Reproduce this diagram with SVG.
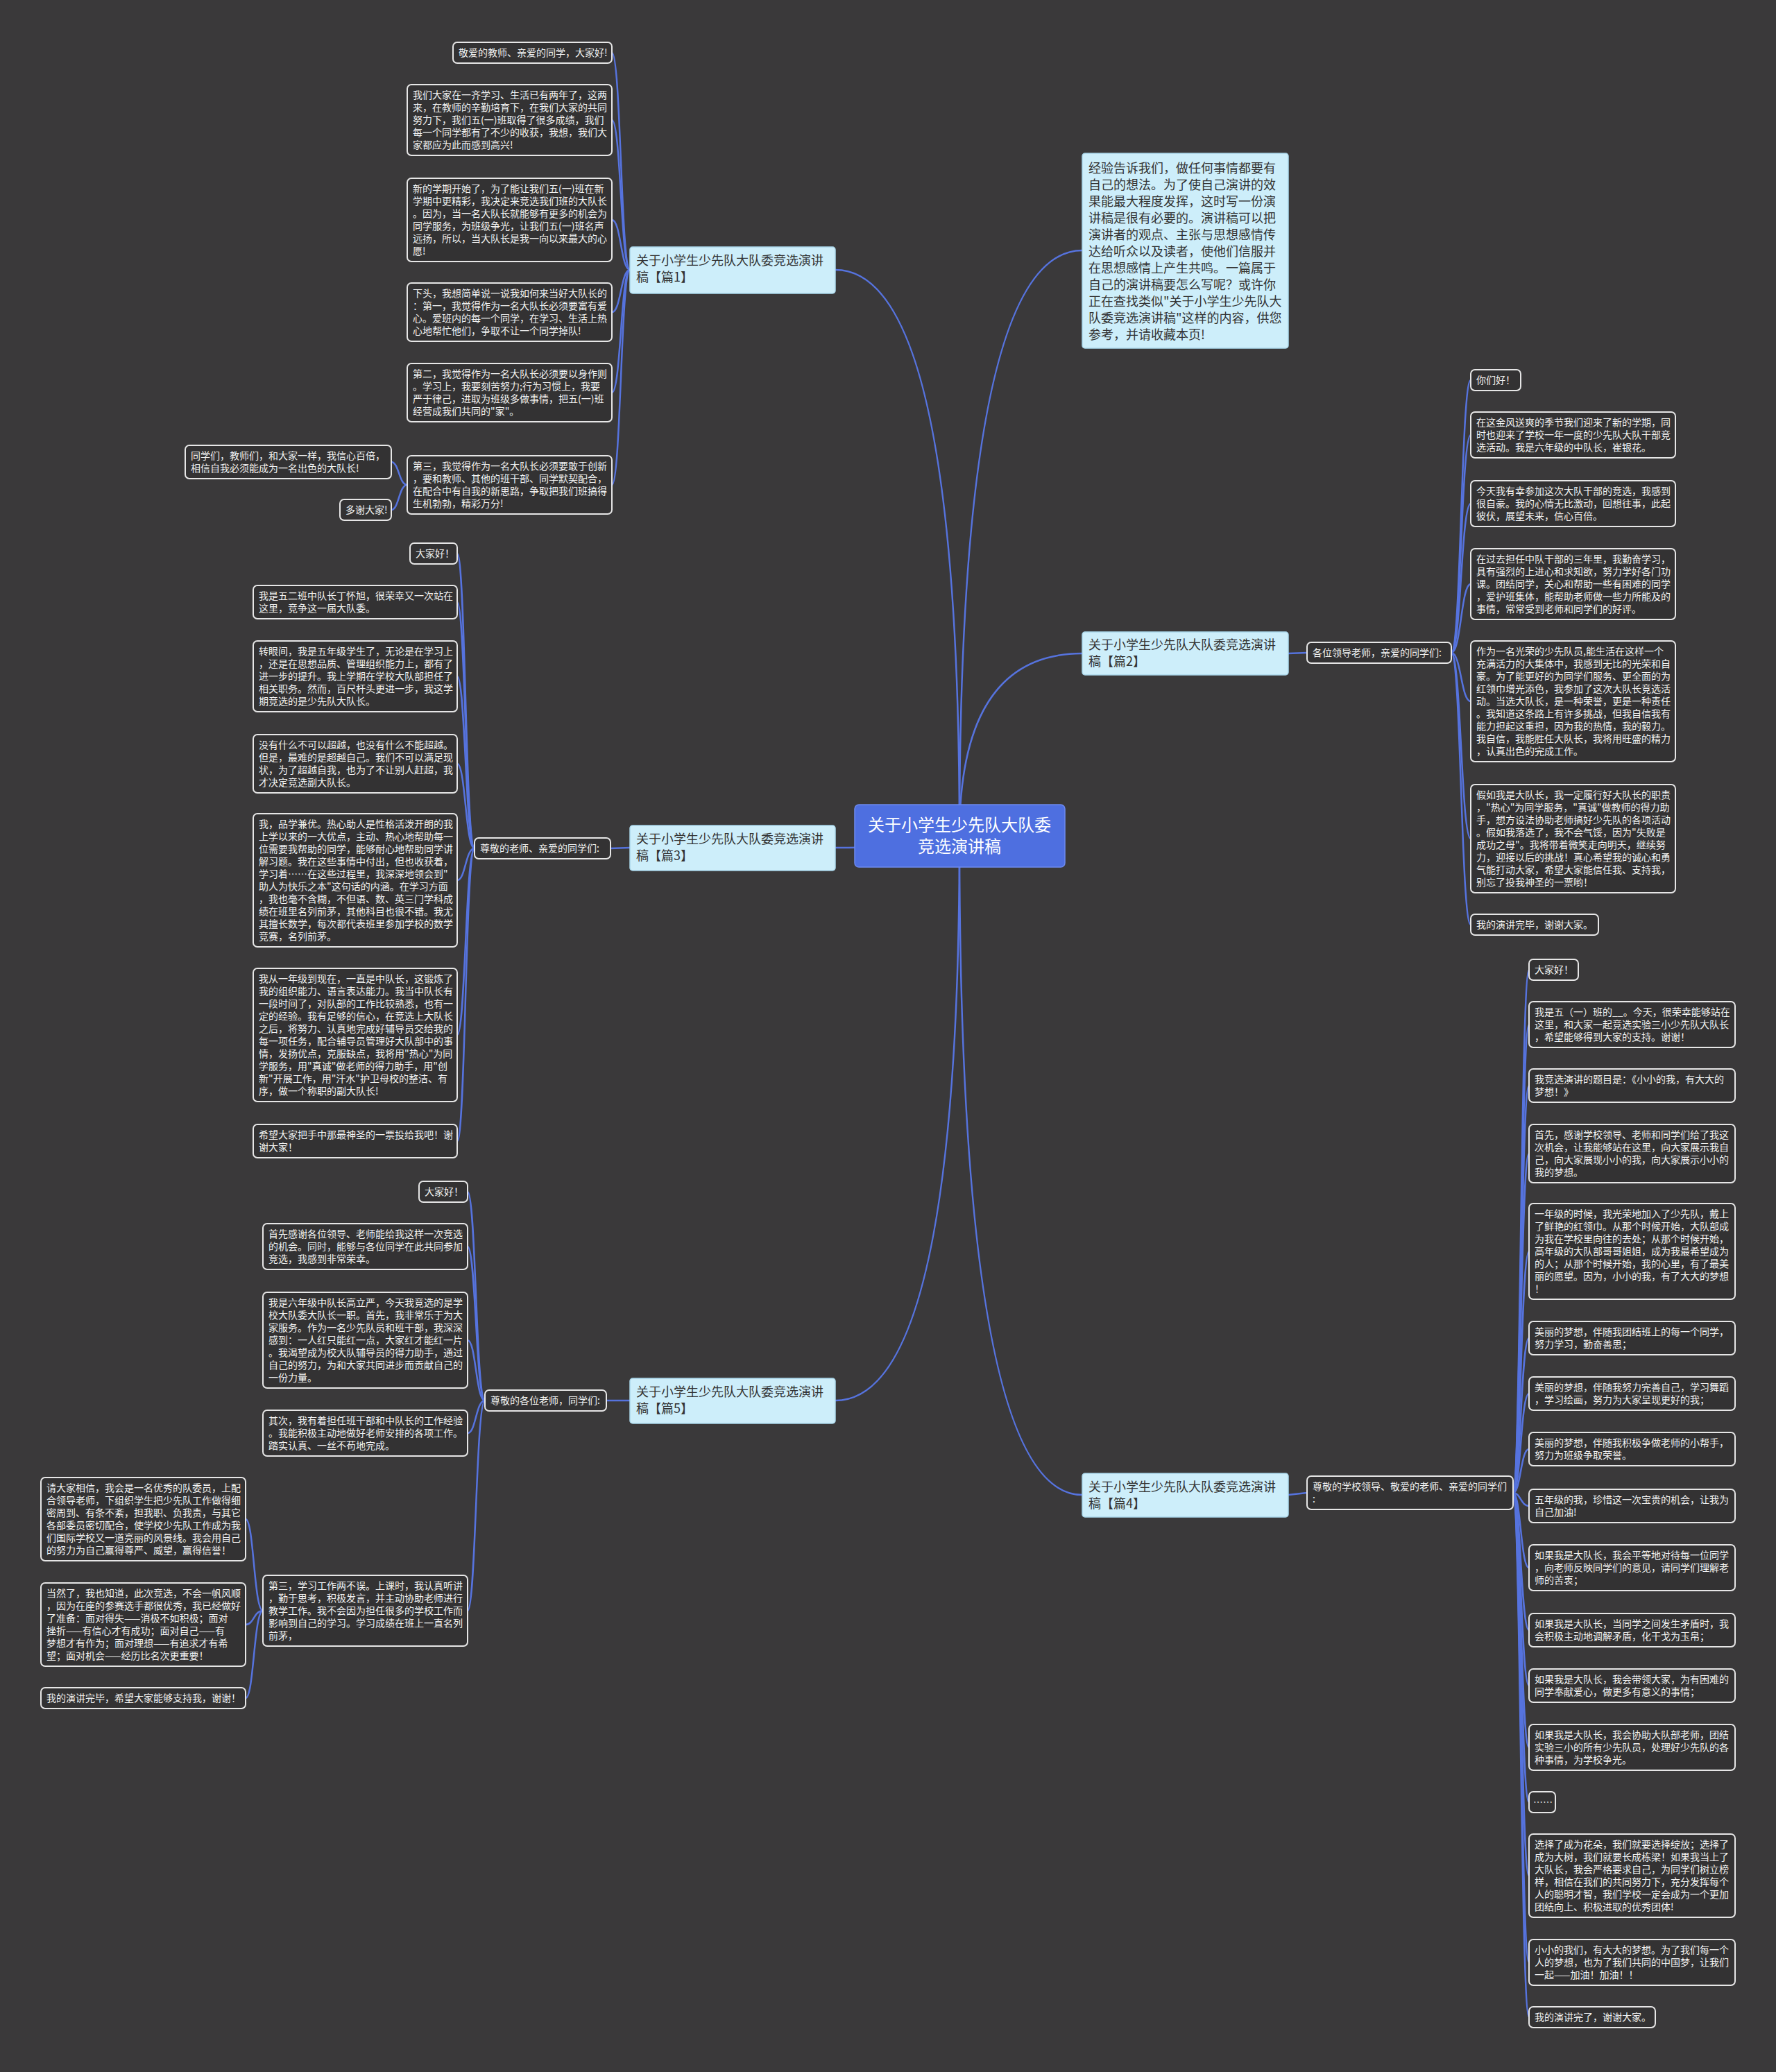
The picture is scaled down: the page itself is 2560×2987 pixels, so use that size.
<svg xmlns="http://www.w3.org/2000/svg" width="2560" height="2987" viewBox="0 0 2560 2987">
<style>
.bg{fill:#3a393a}
.c{fill:none;stroke:#5673de;stroke-width:2.5}
.lf{fill:#333233;stroke:#e6e6e6;stroke-width:2}
.lt{font-family:"Noto Sans CJK SC","Noto Sans",sans-serif;font-size:14px;fill:#f2f2f2}
.n1{fill:#cdeefa;stroke:#a9d6ea;stroke-width:1.5}
.n1t{font-family:"Noto Sans CJK SC","Noto Sans",sans-serif;font-size:18px;fill:#333}
.ct{font-family:"Noto Sans CJK SC","Noto Sans",sans-serif;font-size:24px;fill:#fff}
</style>
<rect class="bg" x="0" y="0" width="2560" height="2987"/>
<g id="connectors">
<path class="c" d="M1383 1205 Q1383 389 1204 389"/>
<path class="c" d="M1383 1205 Q1383 361 1560 361"/>
<path class="c" d="M1383 1205 Q1383 942 1560 942"/>
<path class="c" d="M1383 1205 Q1383 1222 1204 1222"/>
<path class="c" d="M1383 1205 Q1383 2019 1204 2019"/>
<path class="c" d="M1383 1205 Q1383 2155 1560 2155"/>
<path class="c" d="M908 389 C895 389 895 76 882 76"/>
<path class="c" d="M908 389 C895 389 895 173 882 173"/>
<path class="c" d="M908 389 C895 389 895 317 882 317"/>
<path class="c" d="M908 389 C895 389 895 450 882 450"/>
<path class="c" d="M908 389 C895 389 895 566 882 566"/>
<path class="c" d="M908 389 C895 389 895 699 882 699"/>
<path class="c" d="M587 699 C575 699 575 666 564 666"/>
<path class="c" d="M587 699 C575 699 575 735 564 735"/>
<path class="c" d="M908 1222 L880 1223"/>
<path class="c" d="M684 1223 C671 1223 671 798 659 798"/>
<path class="c" d="M684 1223 C671 1223 671 868 659 868"/>
<path class="c" d="M684 1223 C671 1223 671 975 659 975"/>
<path class="c" d="M684 1223 C671 1223 671 1101 659 1101"/>
<path class="c" d="M684 1223 C671 1223 671 1269 659 1269"/>
<path class="c" d="M684 1223 C671 1223 671 1492 659 1492"/>
<path class="c" d="M684 1223 C671 1223 671 1645 659 1645"/>
<path class="c" d="M908 2019 L874 2019"/>
<path class="c" d="M699 2019 C686 2019 686 1718 674 1718"/>
<path class="c" d="M699 2019 C686 2019 686 1797 674 1797"/>
<path class="c" d="M699 2019 C686 2019 686 1932 674 1932"/>
<path class="c" d="M699 2019 C686 2019 686 2066 674 2066"/>
<path class="c" d="M699 2019 C686 2019 686 2322 674 2322"/>
<path class="c" d="M379 2322 C366 2322 366 2190 354 2190"/>
<path class="c" d="M379 2322 C366 2322 366 2342 354 2342"/>
<path class="c" d="M379 2322 C366 2322 366 2448 354 2448"/>
<path class="c" d="M1857 942 L1884 941"/>
<path class="c" d="M2092 941 C2106 941 2106 548 2120 548"/>
<path class="c" d="M2092 941 C2106 941 2106 627 2120 627"/>
<path class="c" d="M2092 941 C2106 941 2106 726 2120 726"/>
<path class="c" d="M2092 941 C2106 941 2106 842 2120 842"/>
<path class="c" d="M2092 941 C2106 941 2106 1011 2120 1011"/>
<path class="c" d="M2092 941 C2106 941 2106 1209 2120 1209"/>
<path class="c" d="M2092 941 C2106 941 2106 1333 2120 1333"/>
<path class="c" d="M1857 2155 L1884 2152"/>
<path class="c" d="M2181 2152 C2192 2152 2192 1398 2204 1398"/>
<path class="c" d="M2181 2152 C2192 2152 2192 1477 2204 1477"/>
<path class="c" d="M2181 2152 C2192 2152 2192 1565 2204 1565"/>
<path class="c" d="M2181 2152 C2192 2152 2192 1663 2204 1663"/>
<path class="c" d="M2181 2152 C2192 2152 2192 1804 2204 1804"/>
<path class="c" d="M2181 2152 C2192 2152 2192 1929 2204 1929"/>
<path class="c" d="M2181 2152 C2192 2152 2192 2009 2204 2009"/>
<path class="c" d="M2181 2152 C2192 2152 2192 2089 2204 2089"/>
<path class="c" d="M2181 2152 C2192 2152 2192 2171 2204 2171"/>
<path class="c" d="M2181 2152 C2192 2152 2192 2260 2204 2260"/>
<path class="c" d="M2181 2152 C2192 2152 2192 2350 2204 2350"/>
<path class="c" d="M2181 2152 C2192 2152 2192 2430 2204 2430"/>
<path class="c" d="M2181 2152 C2192 2152 2192 2519 2204 2519"/>
<path class="c" d="M2181 2152 C2192 2152 2192 2598 2204 2598"/>
<path class="c" d="M2181 2152 C2192 2152 2192 2704 2204 2704"/>
<path class="c" d="M2181 2152 C2192 2152 2192 2829 2204 2829"/>
<path class="c" d="M2181 2152 C2192 2152 2192 2908 2204 2908"/>
</g>

<g id="center">
<rect x="1232" y="1160" width="303" height="90" rx="6" fill="#4e6fe0" stroke="#6d8af0" stroke-width="1.5"/>
<text class="ct" text-anchor="middle"><tspan x="1383" y="1198">关于小学生少先队大队委</tspan><tspan x="1383" y="1229">竞选演讲稿</tspan></text>
</g>

<g id="intro">
<rect class="n1" x="1560" y="221" width="297" height="281" rx="4"/>
<text class="n1t"><tspan x="1569" y="249">经验告诉我们，做任何事情都要有</tspan><tspan x="1569" y="273">自己的想法。为了使自己演讲的效</tspan><tspan x="1569" y="297">果能最大程度发挥，这时写一份演</tspan><tspan x="1569" y="321">讲稿是很有必要的。演讲稿可以把</tspan><tspan x="1569" y="345">演讲者的观点、主张与思想感情传</tspan><tspan x="1569" y="369">达给听众以及读者，使他们信服并</tspan><tspan x="1569" y="393">在思想感情上产生共鸣。一篇属于</tspan><tspan x="1569" y="417">自己的演讲稿要怎么写呢？或许你</tspan><tspan x="1569" y="441">正在查找类似"关于小学生少先队大</tspan><tspan x="1569" y="465">队委竞选演讲稿"这样的内容，供您</tspan><tspan x="1569" y="489">参考，并请收藏本页!</tspan></text>
</g>

<g id="p1">
<rect class="n1" x="908" y="356" width="296" height="67" rx="4"/>
<text class="n1t"><tspan x="917" y="382">关于小学生少先队大队委竞选演讲</tspan><tspan x="917" y="406">稿【篇1】</tspan></text>
</g>
<g id="p1-1"><rect class="lf" x="653" y="61" width="229" height="30" rx="6"/><text class="lt"><tspan x="661" y="81">敬爱的教师、亲爱的同学，大家好!</tspan></text></g>
<g id="p1-2"><rect class="lf" x="587" y="122" width="295" height="102" rx="6"/><text class="lt"><tspan x="595" y="142">我们大家在一齐学习、生活已有两年了，这两</tspan><tspan x="595" y="160">来，在教师的辛勤培育下，在我们大家的共同</tspan><tspan x="595" y="178">努力下，我们五(一)班取得了很多成绩，我们</tspan><tspan x="595" y="196">每一个同学都有了不少的收获，我想，我们大</tspan><tspan x="595" y="214">家都应为此而感到高兴!</tspan></text></g>
<g id="p1-3"><rect class="lf" x="587" y="257" width="295" height="120" rx="6"/><text class="lt"><tspan x="595" y="277">新的学期开始了，为了能让我们五(一)班在新</tspan><tspan x="595" y="295">学期中更精彩，我决定来竞选我们班的大队长</tspan><tspan x="595" y="313">。因为，当一名大队长就能够有更多的机会为</tspan><tspan x="595" y="331">同学服务，为班级争光，让我们五(一)班名声</tspan><tspan x="595" y="349">远扬，所以，当大队长是我一向以来最大的心</tspan><tspan x="595" y="367">愿!</tspan></text></g>
<g id="p1-4"><rect class="lf" x="587" y="408" width="295" height="84" rx="6"/><text class="lt"><tspan x="595" y="428">下头，我想简单说一说我如何来当好大队长的</tspan><tspan x="595" y="446">：第一，我觉得作为一名大队长必须要富有爱</tspan><tspan x="595" y="464">心。爱班内的每一个同学，在学习、生活上热</tspan><tspan x="595" y="482">心地帮忙他们，争取不让一个同学掉队!</tspan></text></g>
<g id="p1-5"><rect class="lf" x="587" y="524" width="295" height="84" rx="6"/><text class="lt"><tspan x="595" y="544">第二，我觉得作为一名大队长必须要以身作则</tspan><tspan x="595" y="562">。学习上，我要刻苦努力;行为习惯上，我要</tspan><tspan x="595" y="580">严于律己，进取为班级多做事情，把五(一)班</tspan><tspan x="595" y="598">经营成我们共同的"家"。</tspan></text></g>
<g id="p1-6"><rect class="lf" x="587" y="657" width="295" height="84" rx="6"/><text class="lt"><tspan x="595" y="677">第三，我觉得作为一名大队长必须要敢于创新</tspan><tspan x="595" y="695">，要和教师、其他的班干部、同学默契配合，</tspan><tspan x="595" y="713">在配合中有自我的新思路，争取把我们班搞得</tspan><tspan x="595" y="731">生机勃勃，精彩万分!</tspan></text></g>
<g id="p1-6a"><rect class="lf" x="267" y="642" width="297" height="48" rx="6"/><text class="lt"><tspan x="275" y="662">同学们，教师们，和大家一样，我信心百倍，</tspan><tspan x="275" y="680">相信自我必须能成为一名出色的大队长!</tspan></text></g>
<g id="p1-6b"><rect class="lf" x="490" y="720" width="74" height="30" rx="6"/><text class="lt"><tspan x="498" y="740">多谢大家!</tspan></text></g>

<g id="p3">
<rect class="n1" x="908" y="1190" width="296" height="65" rx="4"/>
<text class="n1t"><tspan x="917" y="1216">关于小学生少先队大队委竞选演讲</tspan><tspan x="917" y="1240">稿【篇3】</tspan></text>
</g>
<g id="p3-l"><rect class="lf" x="684" y="1208" width="196" height="30" rx="6"/><text class="lt"><tspan x="692" y="1228">尊敬的老师、亲爱的同学们:</tspan></text></g>
<g id="p3-1"><rect class="lf" x="591" y="783" width="68" height="30" rx="6"/><text class="lt"><tspan x="599" y="803">大家好！</tspan></text></g>
<g id="p3-2"><rect class="lf" x="365" y="844" width="294" height="48" rx="6"/><text class="lt"><tspan x="373" y="864">我是五二班中队长丁怀旭，很荣幸又一次站在</tspan><tspan x="373" y="882">这里，竞争这一届大队委。</tspan></text></g>
<g id="p3-3"><rect class="lf" x="365" y="924" width="294" height="102" rx="6"/><text class="lt"><tspan x="373" y="944">转眼间，我是五年级学生了，无论是在学习上</tspan><tspan x="373" y="962">，还是在思想品质、管理组织能力上，都有了</tspan><tspan x="373" y="980">进一步的提升。我上学期在学校大队部担任了</tspan><tspan x="373" y="998">相关职务。然而，百尺杆头更进一步，我这学</tspan><tspan x="373" y="1016">期竞选的是少先队大队长。</tspan></text></g>
<g id="p3-4"><rect class="lf" x="365" y="1059" width="294" height="84" rx="6"/><text class="lt"><tspan x="373" y="1079">没有什么不可以超越，也没有什么不能超越。</tspan><tspan x="373" y="1097">但是，最难的是超越自己。我们不可以满足现</tspan><tspan x="373" y="1115">状，为了超越自我，也为了不让别人赶超，我</tspan><tspan x="373" y="1133">才决定竞选副大队长。</tspan></text></g>
<g id="p3-5"><rect class="lf" x="365" y="1173" width="294" height="192" rx="6"/><text class="lt"><tspan x="373" y="1193">我，品学兼优。热心助人是性格活泼开朗的我</tspan><tspan x="373" y="1211">上学以来的一大优点，主动、热心地帮助每一</tspan><tspan x="373" y="1229">位需要我帮助的同学，能够耐心地帮助同学讲</tspan><tspan x="373" y="1247">解习题。我在这些事情中付出，但也收获着，</tspan><tspan x="373" y="1265">学习着……在这些过程里，我深深地领会到"</tspan><tspan x="373" y="1283">助人为快乐之本"这句话的内涵。在学习方面</tspan><tspan x="373" y="1301">，我也毫不含糊，不但语、数、英三门学科成</tspan><tspan x="373" y="1319">绩在班里名列前茅，其他科目也很不错。我尤</tspan><tspan x="373" y="1337">其擅长数学，每次都代表班里参加学校的数学</tspan><tspan x="373" y="1355">竞赛，名列前茅。</tspan></text></g>
<g id="p3-6"><rect class="lf" x="365" y="1396" width="294" height="192" rx="6"/><text class="lt"><tspan x="373" y="1416">我从一年级到现在，一直是中队长，这锻炼了</tspan><tspan x="373" y="1434">我的组织能力、语言表达能力。我当中队长有</tspan><tspan x="373" y="1452">一段时间了，对队部的工作比较熟悉，也有一</tspan><tspan x="373" y="1470">定的经验。我有足够的信心，在竞选上大队长</tspan><tspan x="373" y="1488">之后，将努力、认真地完成好辅导员交给我的</tspan><tspan x="373" y="1506">每一项任务，配合辅导员管理好大队部中的事</tspan><tspan x="373" y="1524">情，发扬优点，克服缺点，我将用"热心"为同</tspan><tspan x="373" y="1542">学服务，用"真诚"做老师的得力助手，用"创</tspan><tspan x="373" y="1560">新"开展工作，用"汗水"护卫母校的整洁、有</tspan><tspan x="373" y="1578">序，做一个称职的副大队长!</tspan></text></g>
<g id="p3-7"><rect class="lf" x="365" y="1621" width="294" height="48" rx="6"/><text class="lt"><tspan x="373" y="1641">希望大家把手中那最神圣的一票投给我吧！谢</tspan><tspan x="373" y="1659">谢大家！</tspan></text></g>

<g id="p5">
<rect class="n1" x="908" y="1987" width="296" height="65" rx="4"/>
<text class="n1t"><tspan x="917" y="2013">关于小学生少先队大队委竞选演讲</tspan><tspan x="917" y="2037">稿【篇5】</tspan></text>
</g>
<g id="p5-l"><rect class="lf" x="699" y="2004" width="175" height="30" rx="6"/><text class="lt"><tspan x="707" y="2024">尊敬的各位老师，同学们:</tspan></text></g>
<g id="p5-1"><rect class="lf" x="604" y="1703" width="70" height="30" rx="6"/><text class="lt"><tspan x="612" y="1723">大家好！</tspan></text></g>
<g id="p5-2"><rect class="lf" x="379" y="1764" width="295" height="66" rx="6"/><text class="lt"><tspan x="387" y="1784">首先感谢各位领导、老师能给我这样一次竞选</tspan><tspan x="387" y="1802">的机会。同时，能够与各位同学在此共同参加</tspan><tspan x="387" y="1820">竞选，我感到非常荣幸。</tspan></text></g>
<g id="p5-3"><rect class="lf" x="379" y="1863" width="295" height="138" rx="6"/><text class="lt"><tspan x="387" y="1883">我是六年级中队长高立严，今天我竞选的是学</tspan><tspan x="387" y="1901">校大队委大队长一职。首先，我非常乐于为大</tspan><tspan x="387" y="1919">家服务。作为一名少先队员和班干部，我深深</tspan><tspan x="387" y="1937">感到：一人红只能红一点，大家红才能红一片</tspan><tspan x="387" y="1955">。我渴望成为校大队辅导员的得力助手，通过</tspan><tspan x="387" y="1973">自己的努力，为和大家共同进步而贡献自己的</tspan><tspan x="387" y="1991">一份力量。</tspan></text></g>
<g id="p5-4"><rect class="lf" x="379" y="2033" width="295" height="66" rx="6"/><text class="lt"><tspan x="387" y="2053">其次，我有着担任班干部和中队长的工作经验</tspan><tspan x="387" y="2071">。我能积极主动地做好老师安排的各项工作。</tspan><tspan x="387" y="2089">踏实认真、一丝不苟地完成。</tspan></text></g>
<g id="p5-5"><rect class="lf" x="379" y="2271" width="295" height="102" rx="6"/><text class="lt"><tspan x="387" y="2291">第三，学习工作两不误。上课时，我认真听讲</tspan><tspan x="387" y="2309">，勤于思考，积极发言，并主动协助老师进行</tspan><tspan x="387" y="2327">教学工作。我不会因为担任很多的学校工作而</tspan><tspan x="387" y="2345">影响到自己的学习。学习成绩在班上一直名列</tspan><tspan x="387" y="2363">前茅，</tspan></text></g>
<g id="p5-5a"><rect class="lf" x="59" y="2130" width="295" height="120" rx="6"/><text class="lt"><tspan x="67" y="2150">请大家相信，我会是一名优秀的队委员，上配</tspan><tspan x="67" y="2168">合领导老师，下组织学生把少先队工作做得细</tspan><tspan x="67" y="2186">密周到、有条不紊，担我职、负我责，与其它</tspan><tspan x="67" y="2204">各部委员密切配合，使学校少先队工作成为我</tspan><tspan x="67" y="2222">们国际学校又一道亮丽的风景线。我会用自己</tspan><tspan x="67" y="2240">的努力为自己赢得尊严、威望，赢得信誉！</tspan></text></g>
<g id="p5-5b"><rect class="lf" x="59" y="2282" width="295" height="120" rx="6"/><text class="lt"><tspan x="67" y="2302">当然了，我也知道，此次竞选，不会一帆风顺</tspan><tspan x="67" y="2320">，因为在座的参赛选手都很优秀，我已经做好</tspan><tspan x="67" y="2338">了准备：面对得失——消极不如积极；面对</tspan><tspan x="67" y="2356">挫折——有信心才有成功；面对自己——有</tspan><tspan x="67" y="2374">梦想才有作为；面对理想——有追求才有希</tspan><tspan x="67" y="2392">望；面对机会——经历比名次更重要！</tspan></text></g>
<g id="p5-5c"><rect class="lf" x="59" y="2433" width="295" height="30" rx="6"/><text class="lt"><tspan x="67" y="2453">我的演讲完毕，希望大家能够支持我，谢谢！</tspan></text></g>

<g id="p2">
<rect class="n1" x="1560" y="911" width="297" height="62" rx="4"/>
<text class="n1t"><tspan x="1569" y="936">关于小学生少先队大队委竞选演讲</tspan><tspan x="1569" y="960">稿【篇2】</tspan></text>
</g>
<g id="p2-l"><rect class="lf" x="1884" y="926" width="208" height="30" rx="6"/><text class="lt"><tspan x="1892" y="946">各位领导老师，亲爱的同学们:</tspan></text></g>
<g id="p2-1"><rect class="lf" x="2120" y="533" width="72" height="30" rx="6"/><text class="lt"><tspan x="2128" y="553">你们好！</tspan></text></g>
<g id="p2-2"><rect class="lf" x="2120" y="594" width="295" height="66" rx="6"/><text class="lt"><tspan x="2128" y="614">在这金风送爽的季节我们迎来了新的学期，同</tspan><tspan x="2128" y="632">时也迎来了学校一年一度的少先队大队干部竞</tspan><tspan x="2128" y="650">选活动。我是六年级的中队长，崔银花。</tspan></text></g>
<g id="p2-3"><rect class="lf" x="2120" y="693" width="295" height="66" rx="6"/><text class="lt"><tspan x="2128" y="713">今天我有幸参加这次大队干部的竞选，我感到</tspan><tspan x="2128" y="731">很自豪。我的心情无比激动，回想往事，此起</tspan><tspan x="2128" y="749">彼伏，展望未来，信心百倍。</tspan></text></g>
<g id="p2-4"><rect class="lf" x="2120" y="791" width="295" height="102" rx="6"/><text class="lt"><tspan x="2128" y="811">在过去担任中队干部的三年里，我勤奋学习，</tspan><tspan x="2128" y="829">具有强烈的上进心和求知欲，努力学好各门功</tspan><tspan x="2128" y="847">课。团结同学，关心和帮助一些有困难的同学</tspan><tspan x="2128" y="865">，爱护班集体，能帮助老师做一些力所能及的</tspan><tspan x="2128" y="883">事情，常常受到老师和同学们的好评。</tspan></text></g>
<g id="p2-5"><rect class="lf" x="2120" y="924" width="295" height="174" rx="6"/><text class="lt"><tspan x="2128" y="944">作为一名光荣的少先队员,能生活在这样一个</tspan><tspan x="2128" y="962">充满活力的大集体中，我感到无比的光荣和自</tspan><tspan x="2128" y="980">豪。为了能更好的为同学们服务、更全面的为</tspan><tspan x="2128" y="998">红领巾增光添色，我参加了这次大队长竞选活</tspan><tspan x="2128" y="1016">动。当选大队长，是一种荣誉，更是一种责任</tspan><tspan x="2128" y="1034">。我知道这条路上有许多挑战，但我自信我有</tspan><tspan x="2128" y="1052">能力担起这重担，因为我的热情，我的毅力。</tspan><tspan x="2128" y="1070">我自信，我能胜任大队长，我将用旺盛的精力</tspan><tspan x="2128" y="1088">，认真出色的完成工作。</tspan></text></g>
<g id="p2-6"><rect class="lf" x="2120" y="1131" width="295" height="156" rx="6"/><text class="lt"><tspan x="2128" y="1151">假如我是大队长，我一定履行好大队长的职责</tspan><tspan x="2128" y="1169">，"热心"为同学服务，"真诚"做教师的得力助</tspan><tspan x="2128" y="1187">手，想方设法协助老师搞好少先队的各项活动</tspan><tspan x="2128" y="1205">。假如我落选了，我不会气馁，因为"失败是</tspan><tspan x="2128" y="1223">成功之母"。我将带着微笑走向明天，继续努</tspan><tspan x="2128" y="1241">力，迎接以后的挑战！真心希望我的诚心和勇</tspan><tspan x="2128" y="1259">气能打动大家，希望大家能信任我、支持我，</tspan><tspan x="2128" y="1277">别忘了投我神圣的一票哟！</tspan></text></g>
<g id="p2-7"><rect class="lf" x="2120" y="1318" width="184" height="30" rx="6"/><text class="lt"><tspan x="2128" y="1338">我的演讲完毕，谢谢大家。</tspan></text></g>

<g id="p4">
<rect class="n1" x="1560" y="2124" width="297" height="63" rx="4"/>
<text class="n1t"><tspan x="1569" y="2150">关于小学生少先队大队委竞选演讲</tspan><tspan x="1569" y="2174">稿【篇4】</tspan></text>
</g>
<g id="p4-l"><rect class="lf" x="1884" y="2128" width="297" height="48" rx="6"/><text class="lt"><tspan x="1892" y="2148">尊敬的学校领导、敬爱的老师、亲爱的同学们</tspan><tspan x="1892" y="2166">:</tspan></text></g>
<g id="p4-1"><rect class="lf" x="2204" y="1383" width="71" height="30" rx="6"/><text class="lt"><tspan x="2212" y="1403">大家好！</tspan></text></g>
<g id="p4-2"><rect class="lf" x="2204" y="1444" width="297" height="66" rx="6"/><text class="lt"><tspan x="2212" y="1464">我是五（一）班的__。今天，很荣幸能够站在</tspan><tspan x="2212" y="1482">这里，和大家一起竞选实验三小少先队大队长</tspan><tspan x="2212" y="1500">，希望能够得到大家的支持。谢谢！</tspan></text></g>
<g id="p4-3"><rect class="lf" x="2204" y="1541" width="297" height="48" rx="6"/><text class="lt"><tspan x="2212" y="1561">我竞选演讲的题目是：《小小的我，有大大的</tspan><tspan x="2212" y="1579">梦想！》</tspan></text></g>
<g id="p4-4"><rect class="lf" x="2204" y="1621" width="297" height="84" rx="6"/><text class="lt"><tspan x="2212" y="1641">首先，感谢学校领导、老师和同学们给了我这</tspan><tspan x="2212" y="1659">次机会，让我能够站在这里，向大家展示我自</tspan><tspan x="2212" y="1677">己，向大家展现小小的我，向大家展示小小的</tspan><tspan x="2212" y="1695">我的梦想。</tspan></text></g>
<g id="p4-5"><rect class="lf" x="2204" y="1735" width="297" height="138" rx="6"/><text class="lt"><tspan x="2212" y="1755">一年级的时候，我光荣地加入了少先队，戴上</tspan><tspan x="2212" y="1773">了鲜艳的红领巾。从那个时候开始，大队部成</tspan><tspan x="2212" y="1791">为我在学校里向往的去处；从那个时候开始，</tspan><tspan x="2212" y="1809">高年级的大队部哥哥姐姐，成为我最希望成为</tspan><tspan x="2212" y="1827">的人；从那个时候开始，我的心里，有了最美</tspan><tspan x="2212" y="1845">丽的愿望。因为，小小的我，有了大大的梦想</tspan><tspan x="2212" y="1863">！</tspan></text></g>
<g id="p4-6"><rect class="lf" x="2204" y="1905" width="297" height="48" rx="6"/><text class="lt"><tspan x="2212" y="1925">美丽的梦想，伴随我团结班上的每一个同学，</tspan><tspan x="2212" y="1943">努力学习，勤奋善思；</tspan></text></g>
<g id="p4-7"><rect class="lf" x="2204" y="1985" width="297" height="48" rx="6"/><text class="lt"><tspan x="2212" y="2005">美丽的梦想，伴随我努力完善自己，学习舞蹈</tspan><tspan x="2212" y="2023">，学习绘画，努力为大家呈现更好的我；</tspan></text></g>
<g id="p4-8"><rect class="lf" x="2204" y="2065" width="297" height="48" rx="6"/><text class="lt"><tspan x="2212" y="2085">美丽的梦想，伴随我积极争做老师的小帮手，</tspan><tspan x="2212" y="2103">努力为班级争取荣誉。</tspan></text></g>
<g id="p4-9"><rect class="lf" x="2204" y="2147" width="297" height="48" rx="6"/><text class="lt"><tspan x="2212" y="2167">五年级的我，珍惜这一次宝贵的机会，让我为</tspan><tspan x="2212" y="2185">自己加油!</tspan></text></g>
<g id="p4-10"><rect class="lf" x="2204" y="2227" width="297" height="66" rx="6"/><text class="lt"><tspan x="2212" y="2247">如果我是大队长，我会平等地对待每一位同学</tspan><tspan x="2212" y="2265">，向老师反映同学们的意见，请同学们理解老</tspan><tspan x="2212" y="2283">师的苦衷；</tspan></text></g>
<g id="p4-11"><rect class="lf" x="2204" y="2326" width="297" height="48" rx="6"/><text class="lt"><tspan x="2212" y="2346">如果我是大队长，当同学之间发生矛盾时，我</tspan><tspan x="2212" y="2364">会积极主动地调解矛盾，化干戈为玉帛；</tspan></text></g>
<g id="p4-12"><rect class="lf" x="2204" y="2406" width="297" height="48" rx="6"/><text class="lt"><tspan x="2212" y="2426">如果我是大队长，我会带领大家，为有困难的</tspan><tspan x="2212" y="2444">同学奉献爱心，做更多有意义的事情；</tspan></text></g>
<g id="p4-13"><rect class="lf" x="2204" y="2486" width="297" height="66" rx="6"/><text class="lt"><tspan x="2212" y="2506">如果我是大队长，我会协助大队部老师，团结</tspan><tspan x="2212" y="2524">实验三小的所有少先队员，处理好少先队的各</tspan><tspan x="2212" y="2542">种事情，为学校争光。</tspan></text></g>
<g id="p4-14"><rect class="lf" x="2204" y="2583" width="38" height="30" rx="6"/><text class="lt"><tspan x="2210" y="2603">……</tspan></text></g>
<g id="p4-15"><rect class="lf" x="2204" y="2644" width="297" height="120" rx="6"/><text class="lt"><tspan x="2212" y="2664">选择了成为花朵，我们就要选择绽放；选择了</tspan><tspan x="2212" y="2682">成为大树，我们就要长成栋梁！如果我当上了</tspan><tspan x="2212" y="2700">大队长，我会严格要求自己，为同学们树立榜</tspan><tspan x="2212" y="2718">样，相信在我们的共同努力下，充分发挥每个</tspan><tspan x="2212" y="2736">人的聪明才智，我们学校一定会成为一个更加</tspan><tspan x="2212" y="2754">团结向上、积极进取的优秀团体!</tspan></text></g>
<g id="p4-16"><rect class="lf" x="2204" y="2796" width="297" height="66" rx="6"/><text class="lt"><tspan x="2212" y="2816">小小的我们，有大大的梦想。为了我们每一个</tspan><tspan x="2212" y="2834">人的梦想，也为了我们共同的中国梦，让我们</tspan><tspan x="2212" y="2852">一起——加油！加油！！</tspan></text></g>
<g id="p4-17"><rect class="lf" x="2204" y="2893" width="182" height="30" rx="6"/><text class="lt"><tspan x="2212" y="2913">我的演讲完了，谢谢大家。</tspan></text></g>
</svg>
